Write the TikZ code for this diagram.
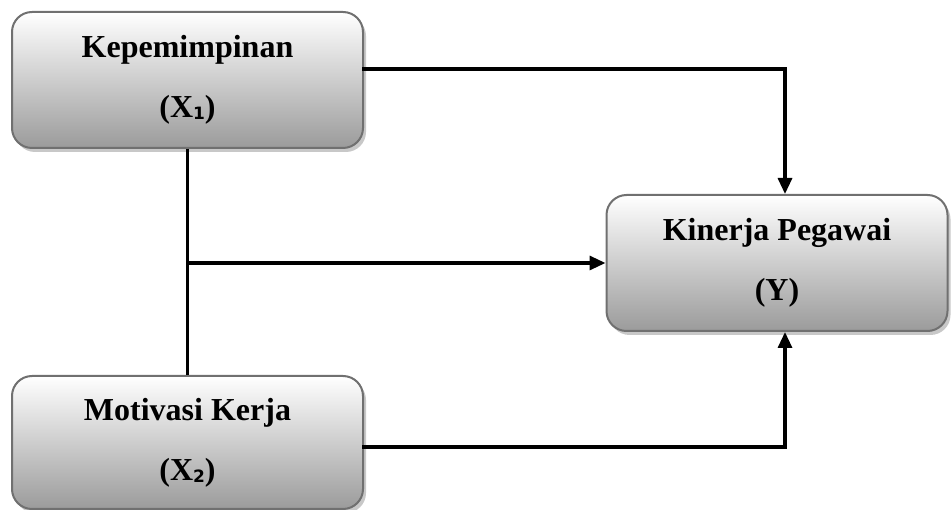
\documentclass[tikz,border=0pt]{standalone}
\usepackage{fontspec}
\setmainfont{Liberation Serif}
\newfontfamily\subf{DejaVu Sans}
\usetikzlibrary{arrows.meta,shadows}
\tikzset{
  varbox/.style={draw={rgb,255:red,112;green,112;blue,112}, line width=2pt, rounded corners=20pt,
    top color=white, bottom color={rgb,255:red,155;green,155;blue,155},
    drop shadow={shadow xshift=3pt, shadow yshift=-4pt, fill={rgb,255:red,200;green,200;blue,200}, opacity=1},
    inner sep=0pt, align=center, font=\fontsize{32}{60}\selectfont\bfseries},
  conn/.style={line width=3.2pt, line cap=rect},
  arr/.style={conn, -{Triangle[length=16pt,width=14pt]}}
}
\newcommand{\sbx}[1]{\raisebox{-2pt}{\fontsize{17}{17}\selectfont\subf\bfseries #1}}
\begin{document}
\begin{tikzpicture}[x=1pt,y=-1pt]
\useasboundingbox (0,0) rectangle (951,510);
\node[varbox, minimum width=351pt, minimum height=136pt] (X1) at (187.5,80) {Kepemimpinan\\(X\sbx{1})};
\node[varbox, minimum width=341pt, minimum height=136pt] (Y) at (777,263) {Kinerja Pegawai\\(Y)};
\node[varbox, minimum width=351pt, minimum height=133pt] (X2) at (187.5,442.5) {Motivasi Kerja\\(X\sbx{2})};
\coordinate (c1) at (785,69);
\coordinate (c2) at (785,447);
\coordinate (j) at (187.5,263);
\draw[arr] (X1.east |- c1) -- (c1) -- (Y.north -| c1);
\draw[conn, line cap=butt] (X1.south) -- (X2.north);
\draw[arr] (j) -- (Y.west);
\draw[arr] (X2.east |- c2) -- (c2) -- (Y.south -| c2);
\end{tikzpicture}
\end{document}
